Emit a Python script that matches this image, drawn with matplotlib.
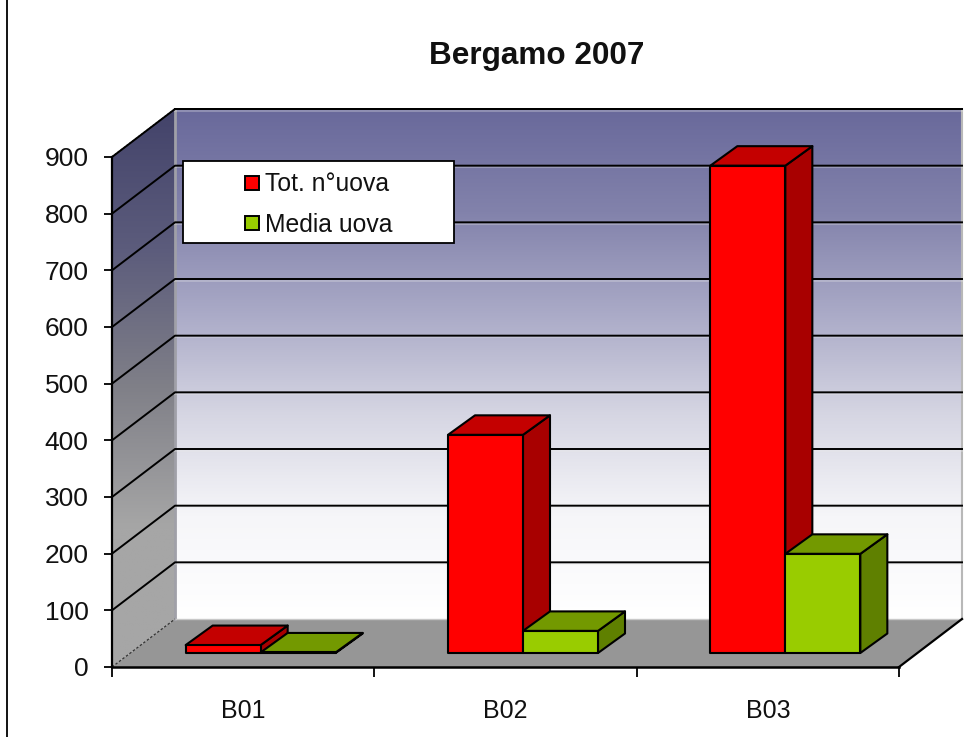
import numpy as np
import matplotlib
matplotlib.use("Agg")
import matplotlib.pyplot as plt
from matplotlib.colors import LinearSegmentedColormap
from matplotlib.lines import Line2D
from matplotlib.patches import Polygon, Rectangle

categories = ["B01", "B02", "B03"]
tot_uova = [14, 385, 860]
media_uova = [1, 39, 175]
series_names = ["Tot. n°uova", "Media uova"]
y_ticks = [0, 100, 200, 300, 400, 500, 600, 700, 800, 900]
title = "Bergamo 2007"

W, H = 975, 737
L, R, T, B = 112, 899, 157, 667
plt.rcParams["font.family"] = ["Liberation Sans", "DejaVu Sans"]
fig = plt.figure(figsize=(W / 100, H / 100), dpi=100, facecolor="white")
ax = fig.add_axes([L / W, 1 - B / H, (R - L) / W, (B - T) / H])
ax.set_facecolor("none")

# depth of the box and of the bars, in axis units
WX, WY = 63 / 262.33, 48 / 0.5667
GX, GY = 17.5 / 262.33, 14 / 0.5667
DX, DY = 27 / 262.33, 19.5 / 0.5667
BW = 75 / 262.33
YMAX = y_ticks[-1]
n = len(categories)

wall_cm = LinearSegmentedColormap.from_list(
    "wall", ["#69699b", "#8282ab", "#aaaac7", "#d6d6e3", "#f6f6f9", "#ffffff"])
side_cm = LinearSegmentedColormap.from_list(
    "side", ["#43436a", "#5c5c7c", "#808088", "#a6a6a6", "#a6a6a6"])
grad = np.linspace(0, 1, 256)[:, None]
ax.imshow(grad, cmap=wall_cm, aspect="auto", origin="upper", zorder=1, clip_on=False,
          extent=(WX, n + WX, WY, YMAX + WY))
side = ax.imshow(grad, cmap=side_cm, aspect="auto", origin="upper", zorder=1,
                 extent=(0, WX, 0, YMAX + WY))
side_poly = Polygon([(0, 0), (WX, WY), (WX, YMAX + WY), (0, YMAX)],
                    transform=ax.transData, fc="none", ec="none", clip_on=False)
ax.add_patch(side_poly)
side.set_clip_path(side_poly)
side.set_clip_box(fig.bbox)

# floor
ax.add_patch(Polygon([(0, 0), (n, 0), (n + WX, WY), (WX, WY)], fc="#969696", ec="none", zorder=2, clip_on=False))
ax.plot([0, WX], [0, WY], color="#333333", lw=0.9, ls=(0, (2, 1.5)), zorder=3, clip_on=False)
ax.plot([0, WX], [YMAX, YMAX + WY], color="#444444", lw=1.2, ls=(0, (1.2, 1)), zorder=3, clip_on=False)
ax.plot([n, n + WX], [0, WY], color="black", lw=1.6, zorder=3, clip_on=False)
ax.plot([WX, WX], [WY, YMAX + WY], color="#a0a0a8", lw=2, zorder=2, clip_on=False)
ax.plot([n + WX, n + WX], [WY, YMAX + WY], color="#b8b8b8", lw=1.5, zorder=2, clip_on=False)
ax.plot([WX, n + WX], [WY, WY], color="#c8c8c8", lw=1, zorder=2, clip_on=False)

# gridlines on side and back walls
for v in y_ticks[1:]:
    ax.plot([WX, n + WX], [v + WY - 3, v + WY - 3], color="#e8e8e8", lw=1.5, alpha=0.3, zorder=2.5, clip_on=False)
    ax.plot([0, WX, n + WX], [v, v + WY, v + WY], color="black", lw=1.4, zorder=3, clip_on=False)
ax.plot([WX, n + WX], [YMAX + WY, YMAX + WY], color="black", lw=1.4, zorder=3, clip_on=False)
ax.plot([0, n], [0, 0], color="black", lw=1.8, zorder=3, clip_on=False)
ax.plot([0, 0], [0, YMAX], color="black", lw=1.6, zorder=3, clip_on=False)


def bar3d(x0, v, front, top, right, z):
    x1 = x0 + BW
    b = GY
    t = GY + v
    kw = dict(ec="black", lw=1.5, joinstyle="round", zorder=z, clip_on=False)
    ax.add_patch(Polygon([(x1, b), (x1 + DX, b + DY), (x1 + DX, t + DY), (x1, t)], fc=right, **kw))
    ax.add_patch(Polygon([(x0, t), (x1, t), (x1 + DX, t + DY), (x0 + DX, t + DY)], fc=top, **kw))
    ax.add_patch(Rectangle((x0, b), BW, v, fc=front, **kw))


for i in range(n):
    z = 4 + i
    bar3d(i + 0.5 - BW + GX, tot_uova[i], "#ff0000", "#c40000", "#a80000", z)
    bar3d(i + 0.5 + GX, media_uova[i], "#99cc00", "#739900", "#5f8000", z + 0.5)

ax.set_xlim(0, n)
ax.set_ylim(0, YMAX)
for s in ax.spines.values():
    s.set_visible(False)
ax.set_yticks(y_ticks)
ax.set_yticklabels([str(v) for v in y_ticks], fontsize=19, color="#111111")
ax.tick_params(axis="y", length=6, width=1.3, pad=11)
ax.set_xticks(range(n + 1))
ax.set_xticklabels([])
ax.tick_params(axis="x", which="major", length=7, width=1.3)
ax.set_xticks(np.arange(n) + 0.5, minor=True)
ax.set_xticklabels(categories, minor=True, fontsize=18, color="#111111")
ax.tick_params(axis="x", which="minor", length=0, pad=23)

# legend box
fig.add_artist(Rectangle((183 / W, 1 - 243 / H), 271 / W, 82 / H, transform=fig.transFigure,
                         fc="white", ec="black", lw=1.3, zorder=10))
handles = [Line2D([], [], ls="none", marker="s", ms=9.5, mfc=c, mec="black", mew=1.4)
           for c in ("#ff0000", "#99cc00")]
leg = fig.legend(handles, series_names, loc="center", bbox_to_anchor=(318 / W, 1 - 204.5 / H),
                 frameon=False, fontsize=17.8, labelspacing=0.66, handlelength=0.7,
                 handletextpad=0.2, borderpad=0, labelcolor="#111111")
leg.set_zorder(11)

fig.text(537 / W, 1 - 56 / H, title, ha="center", va="center", fontsize=22.7, fontweight="bold", color="#111111")
fig.add_artist(Line2D([7 / W, 7 / W], [0, 1], color="black", lw=1.3, transform=fig.transFigure))

fig.savefig("out.png", dpi=100, facecolor="white")
